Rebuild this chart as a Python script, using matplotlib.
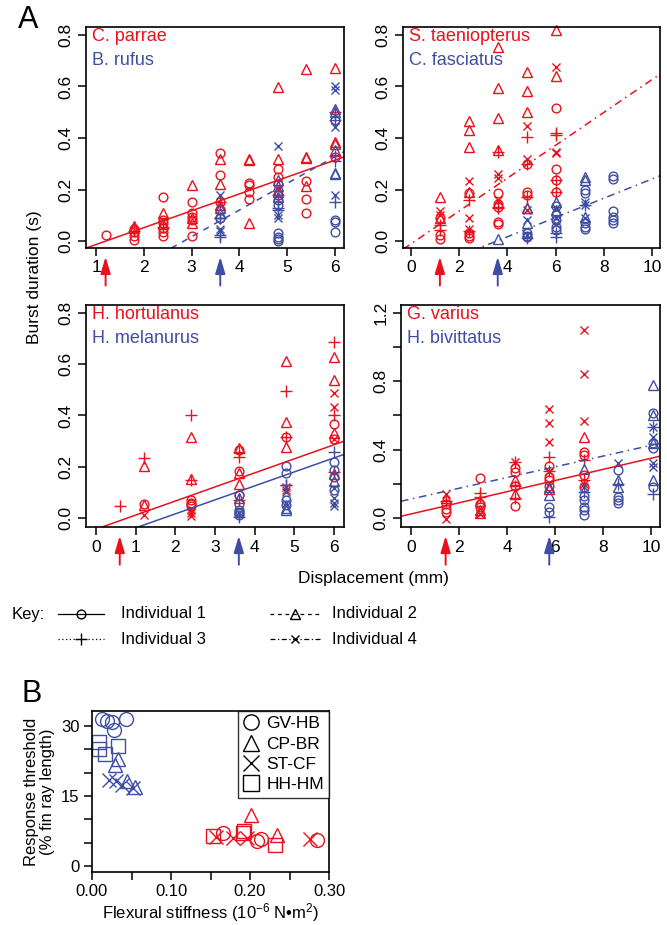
import matplotlib
matplotlib.use("Agg")
import matplotlib.pyplot as plt
import numpy as np
from matplotlib.lines import Line2D

plt.rcParams['font.family'] = ['Liberation Sans', 'DejaVu Sans']
plt.rcParams['mathtext.fontset'] = 'custom'
plt.rcParams['mathtext.rm'] = 'Liberation Sans'
plt.rcParams['mathtext.default'] = 'rm'

RED = '#e8111c'
BLUE = '#3f4ea3'

# individuals: 1 = circle, 2 = triangle, 3 = plus, 4 = cross
# ---- panel 1: C. parrae (red) / B. rufus (blue)
cp_x = [1.2, 1.8, 1.8, 1.8, 1.8, 1.8, 1.8, 1.8,
        2.4, 2.4, 2.4, 2.4, 2.4, 2.4, 2.4, 2.4, 2.4,
        3.0, 3.0, 3.0, 3.0, 3.0, 3.0, 3.0, 3.0,
        3.6, 3.6, 3.6, 3.6, 3.6, 3.6, 3.6, 3.6, 3.6, 3.6,
        4.2, 4.2, 4.2, 4.2, 4.2, 4.2, 4.2,
        4.8, 4.8, 4.8, 4.8, 4.8, 4.8, 4.8, 4.8,
        5.4, 5.4, 5.4, 5.4, 5.4, 5.4, 5.4,
        6.0, 6.0, 6.0, 6.0, 6.0, 6.0, 6.0]
cp_y = [0.022, 0.045, 0.035, 0.02, 0.005, 0.06, 0.05, 0.04,
        0.172, 0.107, 0.08, 0.07, 0.065, 0.05, 0.035, 0.02, 0.055,
        0.216, 0.15, 0.107, 0.095, 0.08, 0.09, 0.07, 0.02,
        0.34, 0.32, 0.255, 0.22, 0.15, 0.14, 0.15, 0.12, 0.09, 0.09,
        0.32, 0.315, 0.226, 0.218, 0.19, 0.163, 0.07,
        0.597, 0.32, 0.278, 0.25, 0.2, 0.18, 0.18, 0.22,
        0.668, 0.327, 0.322, 0.234, 0.214, 0.163, 0.11,
        0.673, 0.5, 0.47, 0.385, 0.375, 0.327, 0.33]
cp_ind = [1, 1, 1, 1, 1, 2, 2, 3,
          1, 2, 1, 1, 2, 1, 1, 1, 3,
          2, 1, 1, 1, 1, 2, 2, 1,
          1, 2, 1, 2, 1, 2, 3, 1, 1, 3,
          2, 2, 1, 1, 1, 1, 2,
          2, 2, 1, 1, 2, 1, 3, 1,
          2, 2, 2, 1, 2, 1, 1,
          2, 3, 1, 2, 2, 1, 3]

br_x = [3.6, 3.6, 3.6, 3.6, 3.6, 3.6, 3.6, 3.6, 3.6,
        4.8, 4.8, 4.8, 4.8, 4.8, 4.8, 4.8, 4.8, 4.8, 4.8, 4.8, 4.8, 4.8, 4.8, 4.8,
        6.0, 6.0, 6.0, 6.0, 6.0, 6.0, 6.0, 6.0, 6.0, 6.0, 6.0, 6.0, 6.0, 6.0, 6.0, 6.0]
br_y = [0.178, 0.13, 0.09, 0.09, 0.045, 0.04, 0.025, 0.017, 0.11,
        0.37, 0.237, 0.215, 0.172, 0.19, 0.16, 0.14, 0.128, 0.12, 0.09, 0.1,
        0.03, 0.017, 0.006, 0.0,
        0.6, 0.585, 0.513, 0.5, 0.47, 0.47, 0.444, 0.353, 0.31, 0.264, 0.26,
        0.179, 0.153, 0.082, 0.074, 0.036]
br_ind = [4, 2, 1, 3, 4, 4, 3, 3, 2,
          4, 2, 2, 2, 2, 1, 1, 3, 3, 4, 4, 1, 1, 1, 1,
          4, 4, 2, 2, 1, 3, 4, 2, 3, 2, 2, 4, 3, 1, 1, 1]

# ---- panel 2: S. taeniopterus (red) / C. fasciatus (blue)
st_x = [1.2] * 9 + [2.4] * 13 + [3.6] * 15 + [4.8] * 13 + [6.0] * 13
st_y = [0.172, 0.116, 0.1, 0.088, 0.088, 0.062, 0.043, 0.023, 0.006,
        0.467, 0.43, 0.366, 0.233, 0.185, 0.19, 0.16, 0.088, 0.045, 0.03, 0.02, 0.01, 0.04,
        0.754, 0.593, 0.476, 0.353, 0.347, 0.26, 0.243, 0.188, 0.16, 0.144, 0.133, 0.133,
        0.127, 0.075, 0.066,
        0.657, 0.584, 0.5, 0.446, 0.402, 0.317, 0.298, 0.298, 0.19, 0.178, 0.172, 0.127, 0.12,
        0.82, 0.674, 0.64, 0.515, 0.42, 0.41, 0.347, 0.34, 0.28, 0.237, 0.237, 0.19, 0.19]
st_ind = [2, 4, 4, 1, 2, 3, 3, 1, 1,
          2, 2, 2, 4, 1, 2, 3, 4, 4, 1, 1, 1, 3,
          2, 2, 2, 2, 3, 4, 4, 1, 4, 1, 1, 3, 3, 1, 1,
          2, 2, 2, 4, 3, 4, 1, 3, 1, 1, 3, 2, 4,
          2, 4, 2, 1, 3, 3, 4, 4, 1, 1, 3, 1, 3]

cf_x = [3.6] + [4.8] * 8 + [6.0] * 12 + [7.2] * 12 + [8.4] * 6
cf_y = [0.006,
        0.127, 0.08, 0.069, 0.03, 0.02, 0.014, 0.01, 0.025,
        0.153, 0.136, 0.127, 0.12, 0.1, 0.09, 0.08, 0.056, 0.043, 0.03, 0.017, 0.065,
        0.25, 0.237, 0.198, 0.185, 0.153, 0.14, 0.14, 0.094, 0.09, 0.069, 0.056, 0.045,
        0.252, 0.24, 0.116, 0.094, 0.082, 0.069]
cf_ind = [2,
          2, 4, 2, 1, 1, 1, 3, 4,
          2, 1, 4, 2, 1, 4, 1, 1, 1, 3, 3, 4,
          2, 2, 1, 1, 4, 4, 3, 2, 4, 1, 1, 1,
          1, 1, 1, 1, 1, 1]

# ---- panel 3: H. hortulanus (red) / H. melanurus (blue)
hh_x = [0.6] + [1.2] * 5 + [2.4] * 11 + [3.6] * 10 + [4.8] * 9 + [6.0] * 12
hh_y = [0.048,
        0.234, 0.204, 0.056, 0.052, 0.013,
        0.4, 0.315, 0.152, 0.147, 0.07, 0.06, 0.055, 0.045, 0.03, 0.02, 0.006,
        0.273, 0.266, 0.257, 0.237, 0.185, 0.175, 0.134, 0.09, 0.056, 0.07,
        0.611, 0.497, 0.375, 0.317, 0.317, 0.278, 0.129, 0.109, 0.12,
        0.688, 0.629, 0.538, 0.487, 0.434, 0.40, 0.367, 0.33, 0.308, 0.308, 0.18, 0.16]
hh_ind = [3,
          3, 2, 1, 2, 4,
          3, 2, 2, 3, 1, 1, 1, 1, 4, 4, 4,
          2, 1, 3, 3, 1, 2, 2, 1, 1, 3,
          2, 3, 2, 1, 3, 2, 3, 4, 4,
          3, 2, 2, 4, 4, 3, 1, 2, 1, 4, 3, 1]

hm_x = [3.6] * 8 + [4.8] * 9 + [6.0] * 10
hm_y = [0.09, 0.08, 0.033, 0.025, 0.02, 0.013, 0.005, 0.02,
        0.204, 0.177, 0.13, 0.1, 0.07, 0.05, 0.03, 0.04, 0.06,
        0.259, 0.22, 0.186, 0.144, 0.119, 0.11, 0.078, 0.06, 0.048, 0.17]
hm_ind = [1, 2, 1, 1, 1, 1, 3, 4,
          1, 1, 3, 4, 1, 1, 2, 2, 4,
          3, 1, 1, 2, 4, 1, 4, 4, 4, 2]

# ---- panel 4: G. varius (red) / H. bivittatus (blue)
gv_x = [1.44] * 7 + [2.88] * 9 + [4.32] * 10 + [5.76] * 11 + [7.2] * 11
gv_y = [0.143, 0.114, 0.1, 0.084, 0.055, 0.035, -0.004,
        0.235, 0.147, 0.12, 0.10, 0.084, 0.065, 0.045, 0.025, 0.03,
        0.329, 0.329, 0.29, 0.27, 0.22, 0.19, 0.19, 0.143, 0.114, 0.069,
        0.638, 0.554, 0.442, 0.358, 0.303, 0.276, 0.276, 0.24, 0.22, 0.186, 0.172,
        1.098, 0.844, 0.568, 0.476, 0.388, 0.368, 0.339, 0.25, 0.225, 0.198, 0.182]
gv_ind = [4, 2, 3, 1, 1, 1, 4,
          1, 3, 3, 2, 1, 1, 2, 4, 2,
          4, 3, 1, 1, 2, 1, 3, 2, 3, 1,
          4, 4, 4, 3, 1, 4, 3, 1, 1, 1, 2,
          4, 4, 4, 2, 1, 1, 3, 1, 3, 4, 1]

hb_x = [5.76] * 5 + [7.2] * 8 + [8.64] * 8 + [10.08] * 14
hb_y = [0.182, 0.133, 0.065, 0.035, 0.006,
        0.284, 0.182, 0.127, 0.104, 0.065, 0.045, 0.02, 0.15,
        0.319, 0.28, 0.22, 0.198, 0.182, 0.123, 0.104, 0.088,
        0.779, 0.613, 0.6, 0.535, 0.535, 0.476, 0.437, 0.437, 0.407, 0.32, 0.296,
        0.22, 0.182, 0.143]
hb_ind = [2, 2, 1, 1, 3,
          2, 4, 1, 1, 1, 1, 1, 3,
          4, 1, 2, 3, 2, 1, 1, 1,
          2, 1, 2, 4, 3, 4, 2, 1, 1, 4, 4, 2, 1, 3]

# regression lines: (slope, intercept, line style)
fits = [
    [(0.0655, -0.079, '-'), (0.1036, -0.294, (0, (4, 4)))],
    [(0.0638, -0.011, (0, (5, 3, 1, 3))), (0.0374, -0.133, (0, (5, 3, 1, 3)))],
    [(0.0549, -0.0435, '-'), (0.0546, -0.093, '-')],
    [(0.0326, 0.0235, '-'), (0.0314, 0.111, (0, (5, 3, 1, 3)))],
]
# response thresholds (arrows), red then blue
thresholds = [(1.2, 3.6), (1.2, 3.6), (0.6, 3.6), (1.44, 5.76)]
species = [("C. parrae", "B. rufus"), ("S. taeniopterus", "C. fasciatus"),
           ("H. hortulanus", "H. melanurus"), ("G. varius", "H. bivittatus")]
red_data = [(cp_x, cp_y, cp_ind), (st_x, st_y, st_ind), (hh_x, hh_y, hh_ind), (gv_x, gv_y, gv_ind)]
blue_data = [(br_x, br_y, br_ind), (cf_x, cf_y, cf_ind), (hm_x, hm_y, hm_ind), (hb_x, hb_y, hb_ind)]

# panel B
b_blue_circle = ([0.013, 0.019, 0.025, 0.028, 0.043], [31.4, 31.1, 30.9, 29.1, 31.4])
b_blue_tri = ([0.033, 0.029, 0.044, 0.054], [22.9, 21.6, 18.1, 17.0])
b_blue_x = ([0.021, 0.030, 0.038, 0.0515], [18.4, 18.1, 17.4, 16.6])
b_blue_sq = ([0.0085, 0.0089, 0.0165, 0.0325], [26.5, 25.1, 23.9, 25.6])
b_red_circle = ([0.166, 0.2085, 0.2135, 0.2845], [7.0, 5.4, 5.7, 5.6])
b_red_tri = ([0.2013, 0.2338], [10.9, 6.6])
b_red_x = ([0.157, 0.179, 0.196, 0.276], [6.3, 5.9, 5.9, 5.7])
b_red_sq = ([0.1536, 0.1916, 0.1930, 0.2317], [6.4, 7.1, 7.4, 4.4])

MARK = {1: 'o', 2: '^', 3: '+', 4: 'x'}
MSIZE = {1: 6.3, 2: 7.0, 3: 8.0, 4: 6.3}

W, H = 667, 925
fig = plt.figure(figsize=(W / 100, H / 100), dpi=100)

# overlay in pixel coordinates for free text and the key
ov = fig.add_axes([0, 0, 1, 1])
ov.set_xlim(0, W)
ov.set_ylim(H, 0)
ov.axis('off')

def px_axes(l, t, r, b):
    return fig.add_axes([l / W, 1 - b / H, (r - l) / W, (b - t) / H])

boxes = [(86, 27, 344, 248), (403, 27, 660, 248), (86, 305, 344, 527), (401, 305, 660, 527)]
xlims = [(0.79, 6.19), (-0.33, 10.33), (-0.25, 6.25), (-0.42, 10.375)]
ylims = [(-0.027, 0.831), (-0.027, 0.831), (-0.035, 0.831), (-0.053, 1.247)]
xticks = [np.arange(1, 7), np.arange(0, 11, 2), np.arange(0, 7), np.arange(0, 11, 2)]

def scatter_species(ax, data, color):
    xs, ys, inds = data
    xs, ys, inds = np.array(xs), np.array(ys), np.array(inds)
    for k in (1, 2, 3, 4):
        m = inds == k
        ax.plot(xs[m], ys[m], linestyle='none', marker=MARK[k], ms=MSIZE[k],
                mfc='none', mec=color, mew=1.0, clip_on=False)

for i in range(4):
    ax = px_axes(*boxes[i])
    ax.set_xlim(*xlims[i])
    ax.set_ylim(*ylims[i])
    ax.set_xticks(xticks[i])
    if i == 3:
        ax.set_yticks(np.arange(0, 1.21, 0.2))
        ax.set_yticklabels(['0.0', '', '0.4', '', '0.8', '', '1.2'])
    else:
        ax.set_yticks(np.arange(0, 0.81, 0.2))
        ax.set_yticklabels(['0.0', '0.2', '0.4', '0.6', '0.8'])
    ax.tick_params(length=6, width=1.1, labelsize=12.5, pad=3)
    for lab in ax.get_yticklabels():
        lab.set_rotation(90)
        lab.set_va('center')
    for s in ax.spines.values():
        s.set_linewidth(1.2)
    scatter_species(ax, red_data[i], RED)
    scatter_species(ax, blue_data[i], BLUE)
    xx = np.array(xlims[i])
    for (sl, ic, ls), c in zip(fits[i], (RED, BLUE)):
        yy = sl * xx + ic
        ax.plot(xx, yy, color=c, lw=1.1, linestyle=ls)
    for th, c in zip(thresholds[i], (RED, BLUE)):
        ax.annotate('', xy=(th, -0.04), xytext=(th, -0.17),
                    xycoords=ax.get_xaxis_transform(),
                    arrowprops=dict(arrowstyle='-|>,head_length=1.0,head_width=0.3',
                                    color=c, lw=1.4, shrinkA=0, shrinkB=0),
                    annotation_clip=False)
    ax.text(0.025, 0.955, species[i][0], color=RED, fontsize=13,
            transform=ax.transAxes, va='center', ha='left')
    ax.text(0.025, 0.85, species[i][1], color=BLUE, fontsize=13,
            transform=ax.transAxes, va='center', ha='left')

ov.text(18, 20, 'A', fontsize=22, va='center', ha='left')
ov.text(35, 277, 'Burst duration (s)', fontsize=12.5, rotation=90, va='center', ha='center')
ov.text(373, 578, 'Displacement (mm)', fontsize=12.5, va='center', ha='center')

# key
key_rows = [614, 639]
ov.text(12, key_rows[0], 'Key:', fontsize=12, va='center', ha='left')
key_items = [((58, 104), key_rows[0], '-', 1, 'Individual 1', 121),
             ((270, 320), key_rows[0], (0, (3, 3)), 2, 'Individual 2', 332),
             ((58, 104), key_rows[1], (0, (1, 2)), 3, 'Individual 3', 121),
             ((270, 320), key_rows[1], (0, (4, 2, 1, 2)), 4, 'Individual 4', 332)]
for (x0, x1), yk, ls, k, lab, tx in key_items:
    ov.plot([x0, x1], [yk, yk], color='black', lw=0.9, linestyle=ls)
    ov.plot([(x0 + x1) / 2], [yk], marker=MARK[k], ms=MSIZE[k], mfc='none',
            mec='black', mew=1.0, linestyle='none')
    ov.text(tx, yk, lab, fontsize=12, va='center', ha='left')

# panel B
ov.text(22, 694, 'B', fontsize=22, va='center', ha='left')
axb = px_axes(92, 711, 329, 872)
axb.set_xlim(0, 0.30)
axb.set_ylim(-1.3, 33.2)
axb.set_xticks(np.arange(0, 0.301, 0.05))
axb.set_xticklabels(['0.00', '', '0.10', '', '0.20', '', '0.30'])
axb.set_yticks(np.arange(0, 31, 5))
axb.set_yticklabels(['0', '', '', '15', '', '', '30'])
axb.tick_params(length=6, width=1.1, labelsize=12, pad=3)
for s in axb.spines.values():
    s.set_linewidth(1.2)
bms = 10
for (bx, by), mk in [(b_blue_circle, 'o'), (b_blue_tri, '^'), (b_blue_x, 'x'), (b_blue_sq, 's')]:
    axb.plot(bx, by, linestyle='none', marker=mk, ms=bms, mfc='none', mec=BLUE, mew=1.0,
             clip_on=False)
for (bx, by), mk in [(b_red_circle, 'o'), (b_red_tri, '^'), (b_red_x, 'x'), (b_red_sq, 's')]:
    axb.plot(bx, by, linestyle='none', marker=mk, ms=bms, mfc='none', mec=RED, mew=1.0,
             clip_on=False)
axb.set_xlabel('Flexural stiffness (10$^{-6}$ N\u2022m$^{2}$)', fontsize=12, labelpad=1)
axb.set_ylabel('Response threshold\n(% fin ray length)', fontsize=12, labelpad=4,
               linespacing=1.1)
handles = [Line2D([], [], linestyle='none', marker=m, ms=11, mfc='none', mec='black', mew=1.0)
           for m in ('o', '^', 'x', 's')]
leg = axb.legend(handles, ['GV-HB', 'CP-BR', 'ST-CF', 'HH-HM'], loc='upper right',
                 fontsize=12.5, frameon=True, fancybox=False, borderaxespad=0,
                 handlelength=0.8, handletextpad=0.5, labelspacing=0.3, borderpad=0.3)
leg.get_frame().set_edgecolor('black')
leg.get_frame().set_linewidth(1.0)

fig.savefig('out.png', dpi=100)
